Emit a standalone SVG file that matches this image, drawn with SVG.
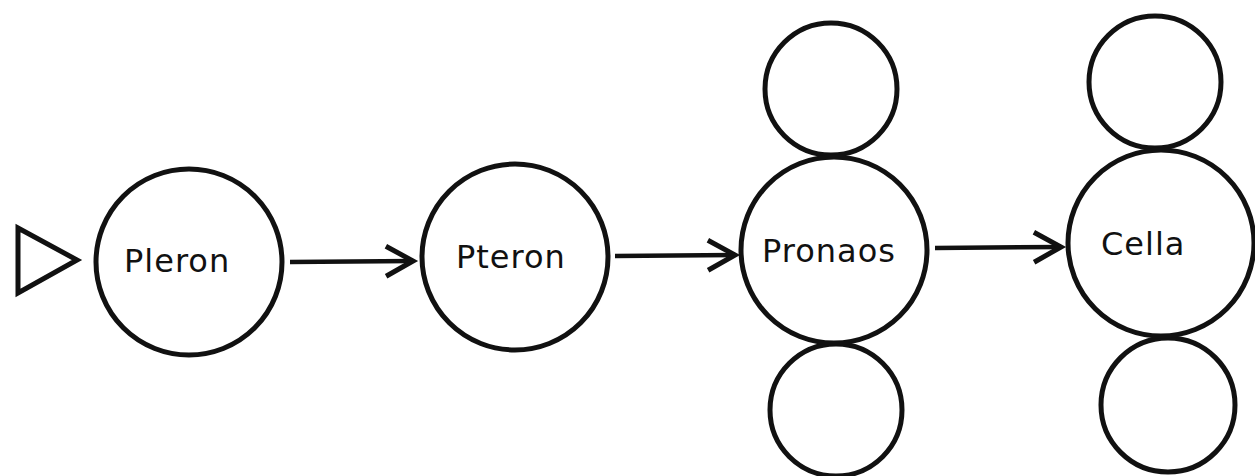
<svg xmlns="http://www.w3.org/2000/svg" width="1255" height="476" viewBox="0 0 1255 476">
<defs>
<style>
.node{fill:#fff;stroke:#111;stroke-width:5}
.lbl{font-family:"DejaVu Sans",sans-serif;font-size:32px;fill:#111;letter-spacing:1px}
.conn{stroke:#111;stroke-width:4.5;fill:none}
</style>
<marker id="arr" markerUnits="userSpaceOnUse" markerWidth="40" markerHeight="40" refX="30" refY="17" orient="auto" viewBox="0 0 40 40">
<path d="M3,2 L30,17 L3,32" fill="none" stroke="#111" stroke-width="5" stroke-linejoin="miter"/>
</marker>
</defs>
<rect width="1255" height="476" fill="#fff"/>
<g id="start">
<path d="M18,228 L77,260 L18,293 Z" fill="none" stroke="#111" stroke-width="5" stroke-linejoin="miter"/>
</g>
<g id="pteron1">
<circle class="node" cx="189" cy="262" r="93"/>
<text class="lbl" x="124" y="272">Pleron</text>
</g>
<g id="pteron2">
<circle class="node" cx="515" cy="257" r="93"/>
<text class="lbl" x="456" y="268">Pteron</text>
</g>
<g id="pronaos">
<circle class="node" cx="831" cy="89" r="66"/>
<circle class="node" cx="836" cy="410" r="66"/>
<circle class="node" cx="834" cy="250" r="93"/>
<text class="lbl" x="762" y="262">Pronaos</text>
</g>
<g id="cella">
<circle class="node" cx="1155" cy="82" r="66"/>
<circle class="node" cx="1168" cy="405" r="67"/>
<circle class="node" cx="1161" cy="243" r="93"/>
<text class="lbl" x="1101" y="255">Cella</text>
</g>
<g id="connectors">
<line class="conn" x1="290" y1="262" x2="413" y2="261" marker-end="url(#arr)"/>
<line class="conn" x1="615" y1="256" x2="735" y2="255" marker-end="url(#arr)"/>
<line class="conn" x1="935" y1="248" x2="1061" y2="247" marker-end="url(#arr)"/>
</g>
</svg>
